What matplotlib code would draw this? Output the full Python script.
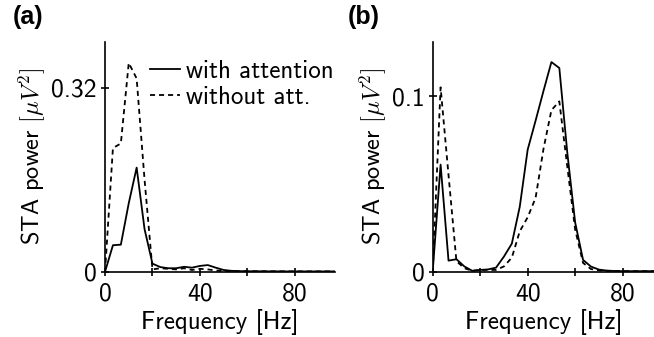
import matplotlib

matplotlib.use("Agg")
import matplotlib.pyplot as plt

plt.rcParams["font.family"] = ["cmss10", "DejaVu Sans"]
plt.rcParams["mathtext.fontset"] = "cm"
plt.rcParams["axes.formatter.use_mathtext"] = True

# frecuencias (Hz), paso ~3.33 Hz
freq = [0, 3.33, 6.67, 10, 13.33, 16.67, 20, 23.33, 26.67, 30, 33.33, 36.67,
        40, 43.33, 46.67, 50, 53.33, 56.67, 60, 63.33, 66.67, 70, 73.33,
        76.67, 80, 83.33, 86.67, 90, 93.33, 96.67]

# panel (a)
a_with = [0, 0.046, 0.047, 0.119, 0.181, 0.074, 0.014, 0.008, 0.006, 0.006,
          0.0085, 0.007, 0.010, 0.0115, 0.007, 0.003, 0.0015, 0.001, 0.0008,
          0.0008, 0.0007, 0.0006, 0.0006, 0.0005, 0.0005, 0.0005, 0.0005,
          0.0005, 0.0005, 0.0005]
a_without = [0, 0.215, 0.223, 0.363, 0.336, 0.16, 0.004, 0.006, 0.005, 0.004,
             0.006, 0.003, 0.005, 0.004, 0.002, 0.001, 0.001, 0.0008, 0.0008,
             0.0007, 0.0007, 0.0006, 0.0006, 0.0005, 0.0005, 0.0005, 0.0005,
             0.0005, 0.0005, 0.0005]

# panel (b)
b_with = [0, 0.061, 0.0063, 0.0071, 0.003, 0.0005, 0.001, 0.0013, 0.0023,
          0.0086, 0.016, 0.037, 0.0695, 0.086, 0.103, 0.1194, 0.116, 0.068,
          0.028, 0.0067, 0.0029, 0.0012, 0.0006, 0.0004, 0.0003, 0.0003,
          0.0003, 0.0003, 0.0003, 0.0003]
b_without = [0, 0.105, 0.055, 0.006, 0.002, 0.0005, 0.001, 0.001, 0.001,
             0.003, 0.008, 0.023, 0.031, 0.042, 0.07, 0.092, 0.097, 0.06,
             0.024, 0.005, 0.0015, 0.0008, 0.0005, 0.0004, 0.0003, 0.0003,
             0.0003, 0.0003, 0.0003, 0.0003]

fig = plt.figure(figsize=(6.54, 3.37), dpi=100)
ax_a = fig.add_axes([0.1606, 0.1938, 0.3517, 0.6825])
ax_b = fig.add_axes([0.6616, 0.1938, 0.3384, 0.6825])

dash = (0, (2.8, 2.2))
ylabel = r"STA power $[\mu V^2]$"

for ax, y1, y2, ymax, yticks, xmax in [
    (ax_a, a_with, a_without, 0.40, [0, 0.32], 97),
    (ax_b, b_with, b_without, 0.131, [0, 0.1], 93.2),
]:
    ax.plot(freq, y1, color="black", lw=1.3, label="with attention")
    ax.plot(freq, y2, color="black", lw=1.3, linestyle=dash, label="without att.")
    ax.set_xlim(0, xmax)
    ax.set_ylim(0, ymax)
    ax.set_xticks([0, 20, 40, 60, 80])
    ax.set_xticklabels(["0", "", "40", "", "80"])
    ax.set_yticks(yticks)
    ax.set_yticklabels([f"{v:g}" for v in yticks])
    ax.spines["top"].set_visible(False)
    ax.spines["right"].set_visible(False)
    for s in ("left", "bottom"):
        ax.spines[s].set_linewidth(1.2)
    ax.tick_params(labelsize=18.5, width=1.2, length=6, direction="inout")
    ax.tick_params(axis="x", pad=5)
    ax.tick_params(axis="y", pad=3)
    ax.set_xlabel("Frequency [Hz]", fontsize=18, labelpad=2)
    ax.set_ylabel(ylabel, fontsize=17.5, labelpad=2)
    ax.patch.set_alpha(0)

ax_a.legend(loc="upper left", bbox_to_anchor=(0.196, 0.92), frameon=False,
            fontsize=18, handlelength=1.2, handletextpad=0.25,
            borderpad=0, borderaxespad=0.0, labelspacing=0.12)

fig.text(0.02, 0.985, "(a)", fontsize=18, fontweight="bold", va="top",
         family="Liberation Sans")
fig.text(0.532, 0.985, "(b)", fontsize=18, fontweight="bold", va="top",
         family="Liberation Sans")

fig.savefig("out.png", dpi=100)
